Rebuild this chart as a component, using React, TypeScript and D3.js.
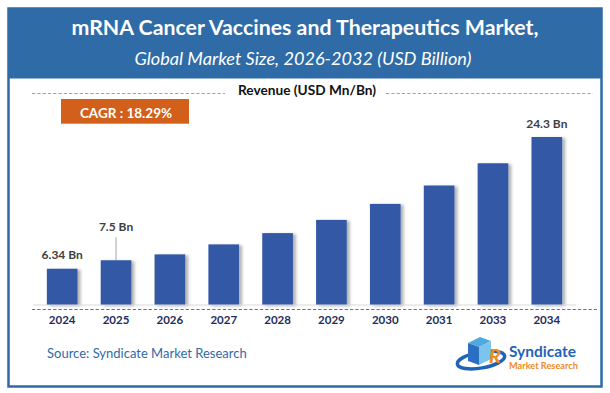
import React from "react";
import * as d3 from "d3";

const years = ["2024", "2025", "2026", "2027", "2028", "2029", "2030", "2031", "2033", "2034"];
const values = [6.34, 7.5, 8.3, 9.66, 11.2, 13.0, 15.18, 17.69, 20.72, 24.3];
const valueLabels = ["6.34 Bn", "7.5 Bn", "", "", "", "", "", "", "", "24.3 Bn"];
const title = "mRNA Cancer Vaccines and Therapeutics Market,";
const subtitle = "Global Market Size, 2026-2032 (USD Billion)";
const axisTitle = "Revenue (USD Mn/Bn)";
const cagrText = "CAGR : 18.29%";
const sourceText = "Source: Syndicate Market Research";
const yDomainMin = 1.4;

const W = 610;
const H = 393;
const FONT = "Lato, 'Open Sans', sans-serif";
const BLUE = "#2E6BA7";
const BAR = "#3358A6";

export default function App() {
  const x = d3.scaleBand<string>().domain(years).range([35, 574]).paddingInner(0.43).paddingOuter(0.22);
  const y = d3.scaleLinear().domain([yDomainMin, d3.max(values)!]).range([305, 137]);
  const bw = x.bandwidth();

  return (
    <svg width={W} height={H} style={{ position: "absolute", left: 0, top: 0, background: "#fff" }} fontFamily={FONT}>
      <defs>
        <filter id="sh" x="-30%" y="-10%" width="160%" height="130%">
          <feDropShadow dx="3" dy="1" stdDeviation="1.8" floodColor="#000" floodOpacity="0.3" />
        </filter>
      </defs>
      {/* frame */}
      <rect x={8.5} y={8.5} width={593} height={378} fill="#fff" stroke={BLUE} strokeWidth={2.5} />
      <rect x={8} y={8} width={594} height={70.5} fill={BLUE} />
      <text x={305} y={35} textAnchor="middle" fill="#fff" fontSize={20} fontWeight={700} textLength={467} lengthAdjust="spacingAndGlyphs">{title}</text>
      <text x={303} y={65} textAnchor="middle" fill="#fff" fontSize={16.5} fontStyle="italic" textLength={337} lengthAdjust="spacingAndGlyphs">{subtitle}</text>

      {/* axis title with dashed lines */}
      <line x1={32} x2={225} y1={93.5} y2={93.5} stroke="#8FA6D0" strokeWidth={1} strokeDasharray="3.3,2" />
      <line x1={386} x2={593} y1={93.5} y2={93.5} stroke="#8FA6D0" strokeWidth={1} strokeDasharray="3.3,2" />
      <text x={307} y={94.5} textAnchor="middle" fill="#111" fontSize={13} fontWeight={700} textLength={138} lengthAdjust="spacingAndGlyphs">{axisTitle}</text>

      {/* CAGR box */}
      <rect x={61} y={99} width={128} height={24.7} fill="#D2601A" />
      <text x={126} y={117.5} textAnchor="middle" fill="#fff" fontSize={13.5} fontWeight={700}>{cagrText}</text>

      {/* bars */}
      {years.map((yr, i) => (
        <rect key={yr} x={x(yr)} y={y(values[i])} width={bw} height={305 - y(values[i])} fill={BAR} filter="url(#sh)" />
      ))}
      {/* baseline */}
      <line x1={33} x2={576} y1={305} y2={305} stroke="#D9D9D9" strokeWidth={1} />
      <line x1={32} x2={597} y1={309.5} y2={309.5} stroke="#4A77C4" strokeWidth={1} strokeDasharray="3.3,2" />

      {/* value labels */}
      {years.map((yr, i) => {
        const lbl = valueLabels[i];
        if (!lbl) return null;
        const cx = x(yr)! + bw / 2;
        const top = y(values[i]);
        const lifted = i === 1;
        const ly = lifted ? top - 29 : top - 9.5;
        return (
          <g key={"l" + yr}>
            {lifted && <line x1={cx} x2={cx} y1={ly + 6} y2={top} stroke="#8C8C8C" strokeWidth={0.8} />}
            <text x={cx} y={ly} textAnchor="middle" fill="#404040" fontSize={12} fontWeight={700}>{lbl}</text>
          </g>
        );
      })}

      {/* year labels */}
      {years.map((yr) => (
        <text key={"y" + yr} x={x(yr)! + bw / 2} y={324} textAnchor="middle" fill="#1F2D5C" fontSize={11.5} fontWeight={700}>{yr}</text>
      ))}

      {/* source */}
      <text x={47} y={358} fill={BLUE} fontSize={13}>{sourceText}</text>

      {/* logo */}
      <g>
        <ellipse cx={481} cy={360} rx={24} ry={8} fill="none" stroke="#1F63B8" strokeWidth={3.5} transform="rotate(-10 481 360)" />
        <path d="M468 343 l12 -6 l11 4 l-12 6 z" fill="#4FA8E0" />
        <path d="M468 343 v18 l11 4 v-18 z" fill="#2A6FC0" />
        <path d="M479 347 v18 l12 -6 v-18 z" fill="#7CC3EE" />
        <text x={489} y={363} fill="#F08A24" fontSize={19} fontWeight={900} fontStyle="italic">R</text>
        <text x={509} y={357} fill="#1F63B8" fontSize={15.5} fontWeight={700}>Syndicate</text>
        <text x={509} y={368.5} fill="#F08A24" fontSize={9.2} fontWeight={700}>Market Research</text>
      </g>
    </svg>
  );
}
